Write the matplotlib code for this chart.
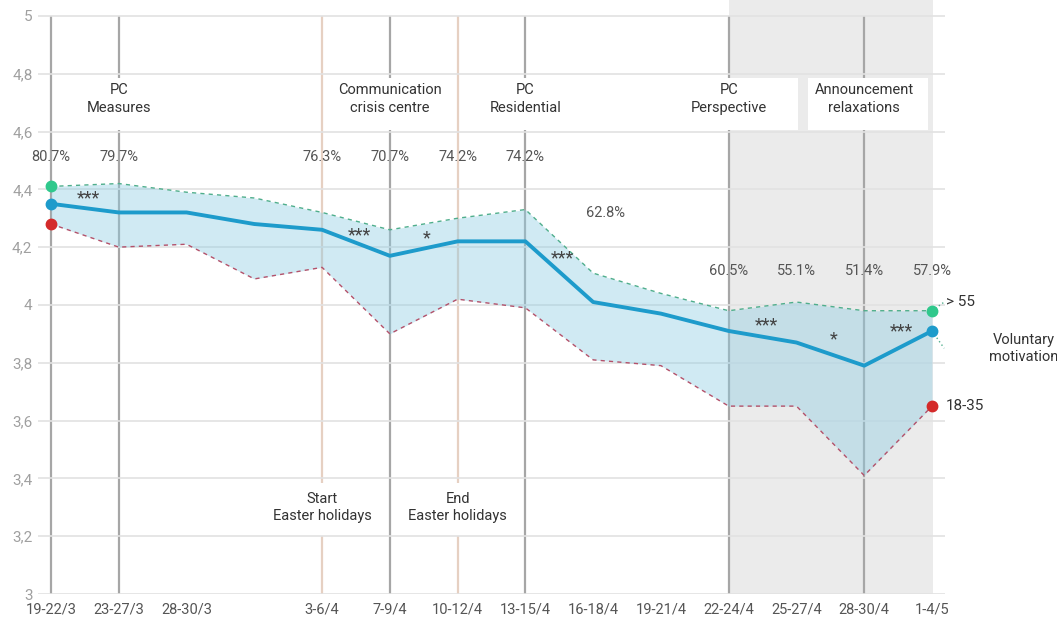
import matplotlib.pyplot as plt
from matplotlib.patches import Rectangle
import numpy as np

plt.rcParams['font.family'] = ['Roboto', 'DejaVu Sans']

# survey periods (one period without a tick label)
periods = ['19-22/3', '23-27/3', '28-30/3', '', '3-6/4', '7-9/4', '10-12/4',
           '13-15/4', '16-18/4', '19-21/4', '22-24/4', '25-27/4', '28-30/4', '1-4/5']

# mean voluntary motivation, overall and per age group
overall = [4.35, 4.32, 4.32, 4.28, 4.26, 4.17, 4.22, 4.22, 4.01, 3.97, 3.91, 3.87, 3.79, 3.91]
older = [4.41, 4.42, 4.39, 4.37, 4.32, 4.26, 4.30, 4.33, 4.11, 4.04, 3.98, 4.01, 3.98, 3.98]
young = [4.28, 4.20, 4.21, 4.09, 4.13, 3.90, 4.02, 3.99, 3.81, 3.79, 3.65, 3.65, 3.41, 3.65]

# share of respondents per period
pct = ['80.7%', '79.7%', None, None, '76.3%', '70.7%', '74.2%', '74.2%',
       '62.8%', None, '60.5%', '55.1%', '51.4%', '57.9%']

# significance between consecutive periods
sig_after = [0, 4, 5, 7, 10, 11, 12]
sig_marks = ['***', '***', '*', '***', '***', '*', '***']

# events
top_events = [(1, 'PC\nMeasures'), (5, 'Communication\ncrisis centre'),
              (7, 'PC\nResidential'), (10, 'PC\nPerspective'),
              (12, 'Announcement\nrelaxations')]
bottom_events = [(4, 'Start\nEaster holidays'), (6, 'End\nEaster holidays')]
dark_lines = [0, 1, 5, 7, 10, 12]
tan_lines = [4, 6]

x = np.arange(len(periods))

fig = plt.figure(figsize=(10.57, 6.19), dpi=100)
ax = fig.add_axes([38 / 1057, 25 / 619, 907 / 1057, 594 / 619])
ax.set_xlim(-0.192, 13.192)
ax.set_ylim(3, 5.055)

# grey period at the end
ax.axvspan(10, 13.02, color='#ebebeb', lw=0, zorder=0)

ax.vlines(dark_lines, 3, 5, color='#a6a6a6', lw=1.6, zorder=1)
ax.vlines(tan_lines, 3, 5, color='#e6d0c2', lw=1.6, zorder=1)

# horizontal grid
for yv in np.arange(3, 5.01, 0.2):
    ax.axhline(yv, color='#e2e2e2', lw=1.2, zorder=2.5)

# white boxes behind the event labels
box_spans = {1: (0.2, 1.8), 5: (4.15, 5.85), 7: (6.2, 7.8), 10: (8.84, 11.02),
             12: (11.17, 12.94), 4: (3.2, 4.8), 6: (5.2, 6.8)}
for i, label in top_events:
    x0, x1 = box_spans[i]
    ax.add_patch(Rectangle((x0, 4.606), x1 - x0, 0.179, fc='white', ec='none', zorder=2))
    ax.text(i, 4.712, label, fontsize=10.5, color='#333333', ha='center', va='center',
            linespacing=1.3, zorder=7)
for i, label in bottom_events:
    x0, x1 = box_spans[i]
    ax.add_patch(Rectangle((x0, 3.2), x1 - x0, 0.184, fc='white', ec='none', zorder=2))
    ax.text(i, 3.30, label, fontsize=10.5, color='#333333', ha='center', va='center',
            linespacing=1.3, zorder=7)

# band between age groups
ax.fill_between(x, young, older, color='#8fcde3', alpha=0.42, lw=0, zorder=3)
ax.plot(x, older, color='#4fae8c', lw=1, ls=(0, (3, 3)), zorder=4)
ax.plot(x, young, color='#b4516a', lw=1, ls=(0, (3, 3)), zorder=4)
ax.plot(x, overall, color='#1d9bcb', lw=2.8, zorder=5, solid_capstyle='round')

for series, col in [(older, '#2fc88c'), (overall, '#1d9bcb'), (young, '#d42a2a')]:
    ax.plot([x[0], x[-1]], [series[0], series[-1]], 'o', color=col, ms=7.5, zorder=6)

# short connectors to the right labels
ax.plot([13, 13.18], [older[-1], older[-1] + 0.03], color='#4fae8c', lw=1, ls=(0, (1, 2)), zorder=4)
ax.plot([13, 13.18], [overall[-1], overall[-1] - 0.06], color='#4fae8c', lw=1, ls=(0, (1, 2)), zorder=4)

ax.text(13.2, older[-1] + 0.03, '> 55', fontsize=11, color='#333333', va='center', ha='left')
ax.text(14.35, overall[-1] - 0.06, 'Voluntary\nmotivation', fontsize=10.5, color='#333333',
        va='center', ha='center', linespacing=1.3, clip_on=False)
ax.text(13.2, young[-1], '18-35', fontsize=11, color='#333333', va='center', ha='left')

# percentages
for i, p in enumerate(pct):
    if p is None:
        continue
    if i <= 7:
        ax.text(i, 4.512, p, fontsize=10.5, color='#555555', ha='center', va='center', zorder=7)
    elif i == 8:
        ax.text(i + 0.18, 4.317, p, fontsize=10.5, color='#555555', ha='center', va='center', zorder=7)
    else:
        ax.text(i, 4.117, p, fontsize=10.5, color='#555555', ha='center', va='center', zorder=7)

# significance stars
star_y = [4.37, 4.24, 4.23, 4.16, 3.93, 3.88, 3.91]
for i, m, sy in zip(sig_after, sig_marks, star_y):
    ax.text(i + 0.55, sy, m, fontsize=13, color='#444444', ha='center', va='center', zorder=7)

ax.set_xticks(x)
ax.set_xticklabels(periods, fontsize=10.5, color='#555555')
yt = np.round(np.arange(3, 5.01, 0.2), 1)
ax.set_yticks(yt)
ax.set_yticklabels([('%g' % v).replace('.', ',') for v in yt], fontsize=11, color='#a0a0a0')
ax.tick_params(axis='x', length=0, pad=6)
ax.tick_params(axis='y', length=0, pad=4)
ax.get_yticklabels()[0].set_y(3.015)
for s in ax.spines.values():
    s.set_visible(False)

plt.savefig('out.png', dpi=100)
